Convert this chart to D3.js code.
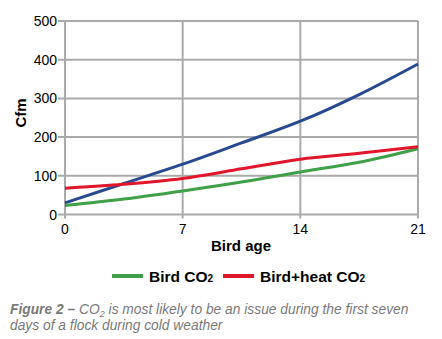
<!DOCTYPE html>
<html>
<head>
<meta charset="utf-8">
<script src="https://cdn.jsdelivr.net/npm/d3@7"></script>
<style>
  body { margin: 0; background: #fff; }
  svg { display: block; font-family: "Liberation Sans", Arial, sans-serif; }
</style>
</head>
<body>
<div id="chart"></div>
<script>
// data
let days = [0, 3.5, 7, 10.5, 14, 17.5, 21];
let birdCO2 = [23, 40, 61, 84, 110, 135, 170];
let birdHeatCO2 = [68, 78, 93, 118, 143, 158, 175];
let otherCO2 = [30, 80, 130, 185, 241, 310, 389];
let xTicks = [0, 7, 14, 21];
let yTicks = [0, 100, 200, 300, 400, 500];

var svg = d3.select('#chart')
    .append('svg')
    .attr('width', 442)
    .attr('height', 339);

let x = d3.scaleLinear().domain([0, 21]).range([65, 418]);
let y = d3.scaleLinear().domain([0, 500]).range([214.5, 21]);

let grid = svg.append('g').attr('stroke', '#aaaaaa').attr('stroke-width', 2);

grid.selectAll('line.h')
    .data(yTicks)
    .enter()
    .append('line')
    .attr('x1', 58)
    .attr('x2', x(21))
    .attr('y1', d => y(d))
    .attr('y2', d => y(d));

grid.selectAll('line.v')
    .data(xTicks)
    .enter()
    .append('line')
    .attr('x1', d => x(d))
    .attr('x2', d => x(d))
    .attr('y1', y(500))
    .attr('y2', y(0) + 4);

svg.append('g')
    .selectAll('text')
    .data(yTicks)
    .enter()
    .append('text')
    .attr('x', 57)
    .attr('y', d => y(d) + 5)
    .attr('text-anchor', 'end')
    .attr('font-size', 14)
    .text(d => d);

svg.append('g')
    .selectAll('text')
    .data(xTicks)
    .enter()
    .append('text')
    .attr('x', d => x(d))
    .attr('y', 234)
    .attr('text-anchor', 'middle')
    .attr('font-size', 14)
    .text(d => d);

svg.append('text')
    .attr('transform', 'translate(26,113) rotate(-90)')
    .attr('text-anchor', 'middle')
    .attr('font-size', 15)
    .attr('font-weight', 'bold')
    .text('Cfm');

svg.append('text')
    .attr('x', 241)
    .attr('y', 251)
    .attr('text-anchor', 'middle')
    .attr('font-size', 15)
    .attr('font-weight', 'bold')
    .text('Bird age');

let line = d3.line()
    .x((d, i) => x(days[i]))
    .y(d => y(d))
    .curve(d3.curveMonotoneX);

let series = [
    { values: otherCO2, color: '#27498f' },
    { values: birdCO2, color: '#3fa048' },
    { values: birdHeatCO2, color: '#e0162b' }
];

svg.append('g')
    .selectAll('path')
    .data(series)
    .enter()
    .append('path')
    .attr('d', d => line(d.values))
    .attr('fill', 'none')
    .attr('stroke', d => d.color)
    .attr('stroke-width', 3);

// legend
let legend = [
    { label: 'Bird CO', x: 112, color: '#3fa048' },
    { label: 'Bird+heat CO', x: 223, color: '#e0162b' }
];

let lg = svg.append('g')
    .selectAll('g')
    .data(legend)
    .enter()
    .append('g');

lg.append('line')
    .attr('x1', d => d.x)
    .attr('x2', d => d.x + 31)
    .attr('y1', 276)
    .attr('y2', 276)
    .attr('stroke', d => d.color)
    .attr('stroke-width', 4);

let lt = lg.append('text')
    .attr('x', d => d.x + 37)
    .attr('y', 281.5)
    .attr('font-size', 15.5)
    .attr('font-weight', 'bold');
lt.append('tspan').text(d => d.label);
lt.append('tspan').attr('font-size', 10).text('2');

// caption
let cap = svg.append('g')
    .attr('fill', '#7a7a7a')
    .attr('font-size', 13.8)
    .attr('font-style', 'italic');

let c1 = cap.append('text').attr('x', 10).attr('y', 314);
c1.append('tspan').attr('font-weight', 'bold').text('Figure 2 \u2013 ');
c1.append('tspan').text('CO');
c1.append('tspan').attr('font-size', 9).attr('dy', 3).text('2');
c1.append('tspan').attr('dy', -3).text(' is most likely to be an issue during the first seven');

cap.append('text')
    .attr('x', 10)
    .attr('y', 330)
    .text('days of a flock during cold weather');
</script>
</body>
</html>
